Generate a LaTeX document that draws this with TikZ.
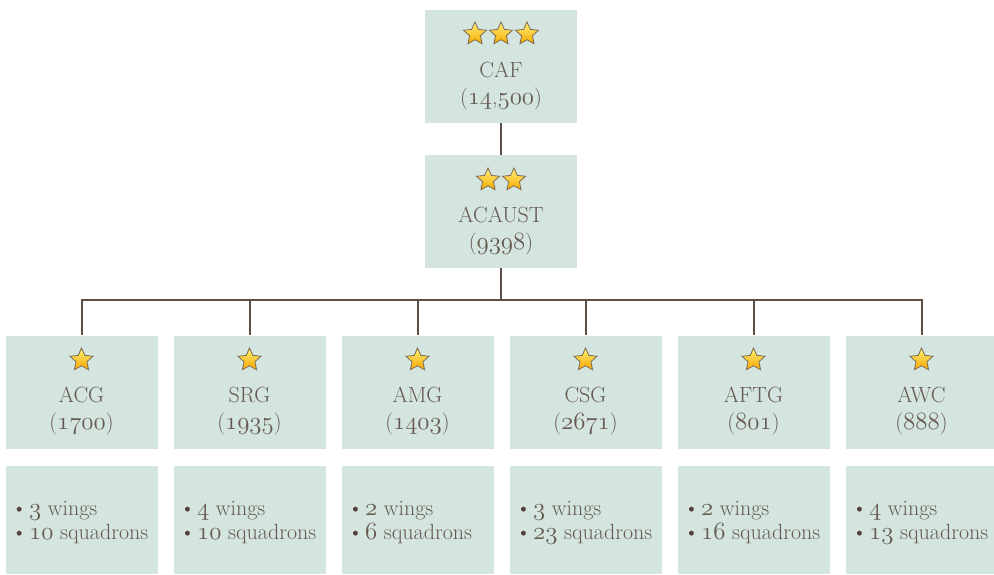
\documentclass[tikz,border=0pt]{standalone}
\usetikzlibrary{shapes.geometric}
\definecolor{boxfill}{HTML}{D4E4DE}
\definecolor{inktext}{HTML}{665952}
\definecolor{linkline}{HTML}{5E4E46}
\definecolor{bulletink}{HTML}{56423A}
\definecolor{starhi}{HTML}{FFF07A}
\definecolor{starlo}{HTML}{F7A800}
\definecolor{staredge}{HTML}{7E6A50}
% old-style figures from the Computer Modern math italic font, set a little larger
\newcommand\osf[1]{{\fontsize{24.88}{26}\usefont{OML}{cmm}{m}{it}#1}}
\newcommand\bul{{\color{bulletink}\raisebox{0.5pt}{\textbullet}}\hspace{0.08em}}
\tikzset{
  unit/.style={fill=boxfill, draw=none, minimum width=152pt, minimum height=113pt, inner sep=0pt},
  note/.style={unit, minimum height=108pt},
  rank/.style={star, star points=5, star point ratio=2.1, minimum size=24pt, inner sep=0pt,
               top color=starhi, bottom color=starlo, draw=staredge, line width=0.8pt},
  unittext/.style={text=inktext, align=center, inner sep=0pt, font=\fontsize{22}{26.5}\selectfont},
  notetext/.style={text=inktext, align=left, inner sep=0pt, anchor=west, font=\fontsize{22}{24}\selectfont},
  link/.style={draw=linkline, line width=2pt}
}
\begin{document}
\begin{tikzpicture}[x=1pt,y=-1pt]
\useasboundingbox (0,0) rectangle (994,574);
\begin{scope}
\clip (0,0) rectangle (994,574);

% command level
\node[unit] (caf) at (501,66.5) {};
\node[rank] (caf-s1) at (475,34) {};
\node[rank] (caf-s2) at (501,34) {};
\node[rank] (caf-s3) at (527,34) {};
\node[unittext] (caf-t) at (501,86) {CAF\\(\osf{14},\osf{500})};

% air command level
\node[unit] (acaust) at (501,211.5) {};
\node[rank] (acaust-s1) at (488,180) {};
\node[rank] (acaust-s2) at (514,180) {};
\node[unittext] (acaust-t) at (501,231) {ACAUST\\(\osf{9398})};

\draw[link] (caf.south) -- (acaust.north);
\coordinate (bus) at (501,300);
\draw[link] (acaust.south) -- (bus);

% groups with their strength, wings and squadrons
\foreach \n/\nm/\num/\w/\s [count=\i from 0] in
  {acg/ACG/1700/3/10, srg/SRG/1935/4/10, amg/AMG/1403/2/6,
   csg/CSG/2671/3/23, aftg/AFTG/801/2/16, awc/AWC/888/4/13}{
  \pgfmathsetmacro\cx{81.5+168*\i}
  \node[unit] (\n) at (\cx,392) {};
  \node[rank] (\n-s) at (\cx,360) {};
  \node[unittext] (\n-t) at (\cx,411) {\nm\\(\osf{\num})};
  \node[note] (\n-n) at (\cx,520) {};
  \node[notetext] (\n-l) at ([xshift=6pt]\n-n.west |- 0,523) {\bul\osf{\w} wings\\\bul\osf{\s} squadrons};
  \draw[link] (bus) -| (\n.north);
}
\end{scope}
\end{tikzpicture}
\end{document}
